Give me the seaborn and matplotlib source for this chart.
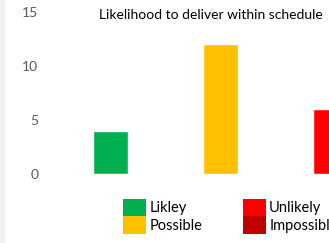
import matplotlib
matplotlib.use('Agg')
import matplotlib.pyplot as plt
import seaborn as sns
import pandas as pd
from matplotlib.patches import Patch, Rectangle

categories = ['Likley', 'Possible', 'Unlikely', 'Impossible']
counts = [4, 12, 6, 0]
colors = ['#00B050', '#FFC000', '#FF0000', '#C00000']
title = 'Likelihood to deliver within schedule'
yticks = [0, 5, 10, 15]

sns.set_theme(style='white')
plt.rcParams['font.family'] = ['Lato', 'DejaVu Sans']

W, H = 329, 243
dpi = 100
fig = plt.figure(figsize=(W / dpi, H / dpi), dpi=dpi)
fig.patch.set_facecolor('white')

left_px = 55
right_px = 55 + 4 * 110
bottom_px = 173.7
top_px = 11.7
ax = fig.add_axes([left_px / W, (H - bottom_px) / H,
                   (right_px - left_px) / W, (bottom_px - top_px) / H])

df = pd.DataFrame({'category': categories, 'count': counts})
sns.barplot(data=df, x='category', y='count', hue='category', palette=colors,
            width=35 / 110, legend=False, ax=ax, saturation=1)

ax.set_xlim(-0.5, 3.5)
ax.set_ylim(0, 15)
ax.set_yticks(yticks)
ax.set_xticks([])
ax.set_xlabel('')
ax.set_ylabel('')
for s in ax.spines.values():
    s.set_visible(False)
ax.tick_params(axis='y', length=0, pad=12, labelsize=10, labelcolor='#595959')
ax.set_facecolor('white')

fig.text(211 / W, 1 - 15 / H, title, ha='center', va='center', fontsize=10,
         color='#000000')

handles = [Patch(facecolor=c, edgecolor='none', label=l) for c, l in zip(colors, categories)]
fig.legend(handles=handles, loc='upper left', bbox_to_anchor=(123 / W, 1 - 199 / H),
           ncol=2, frameon=False, borderpad=0, borderaxespad=0, labelspacing=0,
           handlelength=1.58, handleheight=1.45, handletextpad=0.22,
           columnspacing=2.8, fontsize=10.5, labelcolor='#000000')

fig.patches.append(Rectangle((0, 0), 4 / W, 1, transform=fig.transFigure,
                             color='#F2F2F2', zorder=-1))

fig.savefig('out.png', dpi=dpi)
